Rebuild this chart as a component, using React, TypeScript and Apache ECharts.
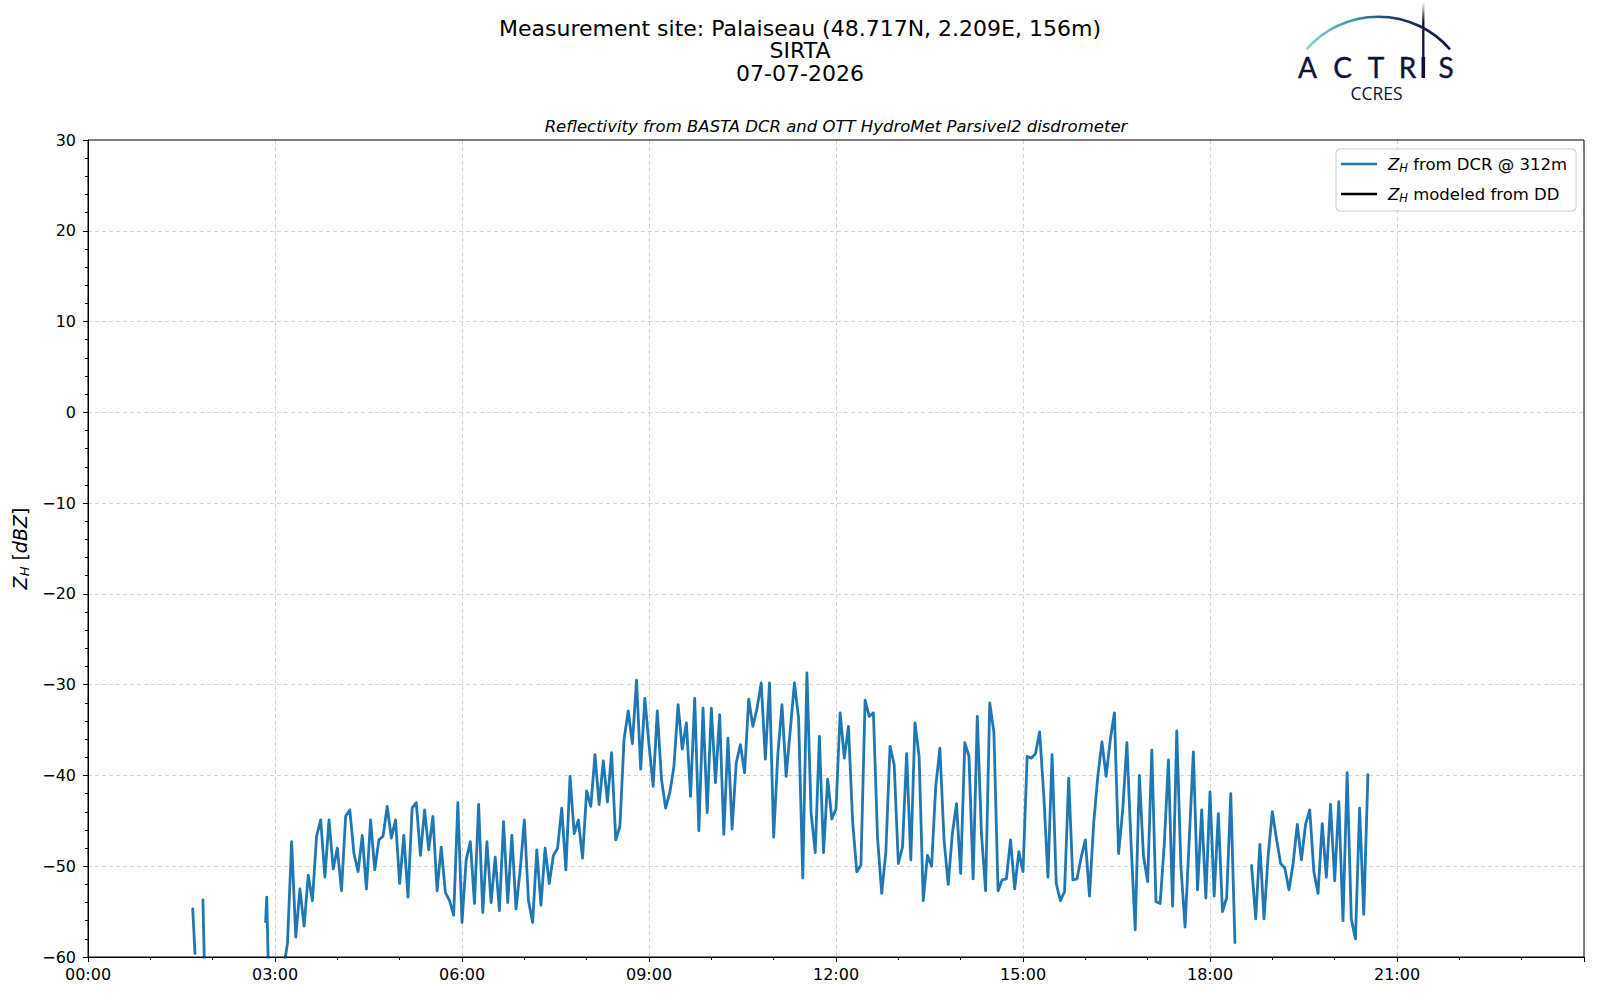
import React, { useEffect, useRef } from "react";
import * as echarts from "echarts";

const FONT = "DejaVu Sans";

// X axis: minutes since 00:00
const xTickStepMin = 180;
const dayMinutes = 1440;
// Y axis range (dBZ)
const yMin = -60;
const yMax = 30;
const yStep = 10;

// Short isolated DCR bursts before the main rain period (time in minutes, value in dBZ; null = gap)
const earlyTimesMin = [100.8, 103.0, 106.0, 110.6, 112.3, 140.0, 171.0, 172.0, 173.8, 180.0];
const earlyValues = [-54.7, -59.6, null, -53.7, -62.0, null, -56.1, -53.4, -62.0, null];

// Main DCR reflectivity record, sampled every 4 minutes from 03:08 (null = gap)
const dcrStartMin = 188;
const dcrStepMin = 4;
const dcrValues = [
  -61.5, -58.5, -47.3, -57.8, -52.5, -56.6, -51.0, -53.8, -46.7, -44.9,
  -51.2, -44.9, -50.3, -48.0, -52.7, -44.5, -43.8, -48.6, -50.6, -46.6,
  -52.5, -44.9, -50.4, -47.1, -46.7, -43.4, -46.9, -44.9, -51.9, -46.6,
  -53.4, -43.6, -43.0, -48.8, -43.8, -48.2, -44.5, -52.7, -47.9, -52.9,
  -53.8, -55.4, -43.0, -56.2, -49.3, -47.3, -54.1, -43.2, -55.1, -47.3,
  -54.0, -49.0, -54.9, -45.1, -54.0, -46.6, -54.7, -50.4, -44.9, -53.8,
  -56.2, -48.2, -54.3, -48.0, -51.9, -48.8, -48.0, -43.6, -50.4, -40.1,
  -46.4, -44.9, -49.1, -41.7, -43.4, -37.7, -43.2, -38.4, -42.9, -37.5,
  -47.1, -45.6, -36.0, -32.9, -36.5, -29.5, -39.3, -31.5, -36.6, -41.2,
  -32.9, -40.4, -43.6, -41.9, -39.0, -32.2, -37.1, -34.2, -42.3, -31.5,
  -46.1, -32.6, -44.1, -32.6, -40.8, -33.3, -46.5, -35.9, -45.9, -38.6,
  -36.6, -39.7, -31.6, -34.6, -32.6, -29.8, -38.2, -29.8, -46.8, -37.7,
  -32.2, -40.1, -35.0, -29.8, -33.7, -51.3, -28.7, -44.1, -48.5, -35.7,
  -48.5, -40.4, -44.8, -43.7, -33.1, -38.1, -34.6, -45.1, -50.6, -49.9,
  -31.7, -33.5, -33.1, -46.9, -53.0, -48.4, -36.8, -38.8, -49.7, -47.9,
  -37.6, -49.3, -34.2, -37.9, -53.8, -48.8, -50.0, -41.2, -37.0, -47.1,
  -52.0, -46.4, -43.1, -50.8, -36.4, -37.9, -51.4, -33.5, -46.4, -52.7,
  -32.0, -35.3, -52.7, -51.5, -51.4, -47.1, -52.5, -48.4, -50.6, -37.9,
  -38.1, -37.6, -35.2, -42.2, -51.2, -37.7, -51.9, -53.8, -52.8, -40.3,
  -51.5, -51.4, -49.0, -47.1, -53.3, -45.3, -40.1, -36.3, -40.1, -36.1,
  -33.1, -48.6, -43.8, -36.4, -47.5, -57.0, -40.0, -48.9, -51.7, -37.2,
  -53.9, -54.1, -47.6, -38.3, -54.4, -35.1, -50.0, -56.7, -47.1, -37.4,
  -52.6, -43.8, -53.5, -41.8, -53.3, -44.2, -55.0, -53.5, -42.0, -58.4,
  null, null, null, -49.9, -55.8, -47.6, -55.8, -48.8, -44.0, -47.0,
  -49.7, -50.2, -52.6, -49.7, -45.4, -49.3, -45.4, -43.8, -50.6, -53.0,
  -45.3, -51.2, -43.2, -51.6, -42.9, -56.0, -39.7, -55.8, -58.0, -43.6,
  -55.3, -39.9,
];

// Disdrometer-modeled reflectivity: no data for this day
const ddTimesMin: number[] = [];
const ddValues: number[] = [];

const titleLines = ["Measurement site: Palaiseau (48.717N, 2.209E, 156m)", "SIRTA", "07-07-2026"];
const subTitle = "Reflectivity from BASTA DCR and OTT HydroMet Parsivel2 disdrometer";
const seriesNames = ["dcr", "dd"];
const legendLabels: Record<string, string> = {
  dcr: " from DCR @ 312m",
  dd: " modeled from DD",
};

const NAVY = "#0f1238";

function fmtTime(m: number): string {
  if (m >= dayMinutes) return "";
  const h = Math.floor(m / 60);
  const mm = Math.round(m % 60);
  return String(h).padStart(2, "0") + ":" + String(mm).padStart(2, "0");
}

export default function App() {
  const ref = useRef<HTMLDivElement>(null);

  useEffect(() => {
    if (!ref.current) return;
    const chart = echarts.init(ref.current, undefined, { renderer: "svg" });

    const dcrData: any[] = [];
    earlyTimesMin.forEach((t, k) => dcrData.push([t, earlyValues[k]]));
    dcrValues.forEach((v, k) => dcrData.push([dcrStartMin + k * dcrStepMin, v]));
    const ddData = ddTimesMin.map((t, k) => [t, ddValues[k]]);

    const axisLineStyle = { color: "#000", width: 1 };
    const splitLineStyle = { color: "#d3d3d3", width: 1, type: [4, 3] as any };

    const GRID = { left: 88, top: 140, width: 1496, height: 817 };

    const arcStroke = new echarts.graphic.LinearGradient(
      1307, 0, 1450, 0,
      [
        { offset: 0, color: "#8fd6cf" },
        { offset: 0.3, color: "#3aa1a6" },
        { offset: 0.6, color: "#1d3c68" },
        { offset: 1, color: NAVY },
      ],
      true
    );
    const poleStroke = new echarts.graphic.LinearGradient(
      0, 2, 0, 58,
      [
        { offset: 0, color: "rgba(15,18,56,0)" },
        { offset: 0.35, color: NAVY },
        { offset: 1, color: NAVY },
      ],
      true
    );

    const letters = [
      { ch: "A", x: 1307.5 },
      { ch: "C", x: 1342.5 },
      { ch: "T", x: 1376 },
      { ch: "R", x: 1407.5 },
      { ch: "S", x: 1446 },
    ];

    const option: any = {
      animation: false,
      backgroundColor: "#fff",
      title: [
        {
          text: titleLines.join("\n"),
          left: 800,
          top: 17,
          padding: 0,
          textAlign: "center",
          textStyle: { fontFamily: FONT, fontSize: 22, fontWeight: "normal", color: "#000", lineHeight: 22.5 },
        },
        {
          text: subTitle,
          left: 836,
          top: 116,
          padding: 0,
          textAlign: "center",
          textStyle: { fontFamily: FONT, fontSize: 16.5, fontStyle: "italic", fontWeight: "normal", color: "#000", lineHeight: 20 },
        },
      ],
      grid: {
        ...GRID,
        show: false,
      },
      legend: {
        data: seriesNames,
        orient: "vertical",
        left: 1336,
        top: 149,
        padding: [5, 9, 7, 5],
        itemWidth: 36,
        itemHeight: 2.4,
        itemGap: 10,
        icon: "rect",
        selectedMode: false,
        backgroundColor: "rgba(255,255,255,0.8)",
        borderColor: "#cccccc",
        borderWidth: 1,
        borderRadius: 4,
        formatter: (name: string) => "{z|Z}{s|H}{t|" + legendLabels[name] + "}",
        textStyle: {
          fontFamily: FONT,
          fontSize: 16.5,
          color: "#000",
          lineHeight: 20,
          rich: {
            z: { fontFamily: FONT, fontSize: 16.5, fontStyle: "italic", color: "#000", lineHeight: 20, padding: [0, 0, 0, 6] },
            s: { fontFamily: FONT, fontSize: 11.5, fontStyle: "italic", color: "#000", lineHeight: 10, verticalAlign: "bottom" },
            t: { fontFamily: FONT, fontSize: 16.5, color: "#000", lineHeight: 20 },
          },
        },
      },
      xAxis: {
        type: "value",
        min: 0,
        max: dayMinutes,
        interval: xTickStepMin,
        axisLine: { show: true, onZero: false, lineStyle: axisLineStyle },
        axisTick: { show: true, length: 5, lineStyle: axisLineStyle },
        minorTick: { show: true, splitNumber: 3, length: 3, lineStyle: { color: "#000", width: 1 } },
        splitLine: { show: true, showMinLine: false, showMaxLine: false, lineStyle: splitLineStyle },
        axisLabel: {
          margin: 9,
          fontFamily: FONT,
          fontSize: 16,
          color: "#000",
          showMaxLabel: false,
          formatter: (v: number) => fmtTime(v),
        },
      },
      yAxis: {
        type: "value",
        min: yMin,
        max: yMax,
        interval: yStep,
        axisLine: { show: true, lineStyle: axisLineStyle },
        axisTick: { show: true, length: 5, lineStyle: axisLineStyle },
        minorTick: { show: true, splitNumber: 5, length: 3, lineStyle: { color: "#000", width: 1 } },
        splitLine: { show: true, showMinLine: false, showMaxLine: false, lineStyle: splitLineStyle },
        axisLabel: {
          margin: 12,
          fontFamily: FONT,
          fontSize: 16,
          color: "#000",
          formatter: (v: number) => (v < 0 ? "\u2212" + Math.abs(v) : String(v)),
        },
        name: "{z|Z}{s|H}{n| [}{i|dBZ}{n|]}",
        nameLocation: "middle",
        nameRotate: 90,
        nameGap: 48,
        nameTextStyle: {
          fontFamily: FONT,
          fontSize: 19,
          color: "#000",
          lineHeight: 22,
          rich: {
            z: { fontFamily: FONT, fontSize: 19, fontStyle: "italic", color: "#000", lineHeight: 22 },
            s: { fontFamily: FONT, fontSize: 13, fontStyle: "italic", color: "#000", lineHeight: 11, verticalAlign: "bottom" },
            n: { fontFamily: FONT, fontSize: 19, color: "#000", lineHeight: 22 },
            i: { fontFamily: FONT, fontSize: 19, fontStyle: "italic", color: "#000", lineHeight: 22 },
          },
        },
      },
      series: [
        {
          name: "dcr",
          type: "line",
          data: dcrData,
          symbol: "none",
          showSymbol: false,
          connectNulls: false,
          clip: true,
          lineStyle: { color: "#1f77b4", width: 2.8, join: "round", cap: "round" },
          itemStyle: { color: "#1f77b4" },
        },
        {
          name: "dd",
          type: "line",
          data: ddData,
          symbol: "none",
          showSymbol: false,
          lineStyle: { color: "#000", width: 2.4 },
          itemStyle: { color: "#000" },
        },
      ],
      graphic: [
        {
          // plot frame (top and right spines)
          type: "rect",
          silent: true,
          z: 50,
          shape: { x: GRID.left, y: GRID.top, width: GRID.width, height: GRID.height },
          style: { fill: null, stroke: "#000", lineWidth: 1 },
        },
        {
          type: "arc",
          silent: true,
          shape: { cx: 1378.3, cy: 111.9, r: 95.2, startAngle: -2.423, endAngle: -0.718, clockwise: true },
          style: { stroke: arcStroke, lineWidth: 2.6, fill: null },
        },
        {
          type: "line",
          silent: true,
          shape: { x1: 1423.3, y1: 2, x2: 1423.3, y2: 58 },
          style: { stroke: poleStroke, lineWidth: 2.3 },
        },
        {
          type: "rect",
          silent: true,
          shape: { x: 1421.5, y: 57, width: 3.6, height: 21 },
          style: { fill: NAVY },
        },
        ...letters.map((l) => ({
          type: "text",
          silent: true,
          x: l.x,
          y: 67,
          style: {
            text: l.ch,
            fontFamily: "Lato",
            fontSize: 28,
            lineHeight: 22,
            fill: NAVY,
            stroke: NAVY,
            lineWidth: 0.4,
            align: "center",
            verticalAlign: "middle",
          },
        })),
        {
          type: "text",
          silent: true,
          x: 1376.5,
          y: 93,
          style: {
            text: "CCRES",
            fontFamily: "Open Sans",
            fontSize: 17.5,
            lineHeight: 16,
            fill: NAVY,
            align: "center",
            verticalAlign: "middle",
          },
        },
      ],
    };

    chart.setOption(option);
    return () => chart.dispose();
  }, []);

  return (
    <div
      ref={ref}
      style={{ position: "fixed", left: 0, top: 0, width: 1600, height: 1000, background: "#fff" }}
    />
  );
}
